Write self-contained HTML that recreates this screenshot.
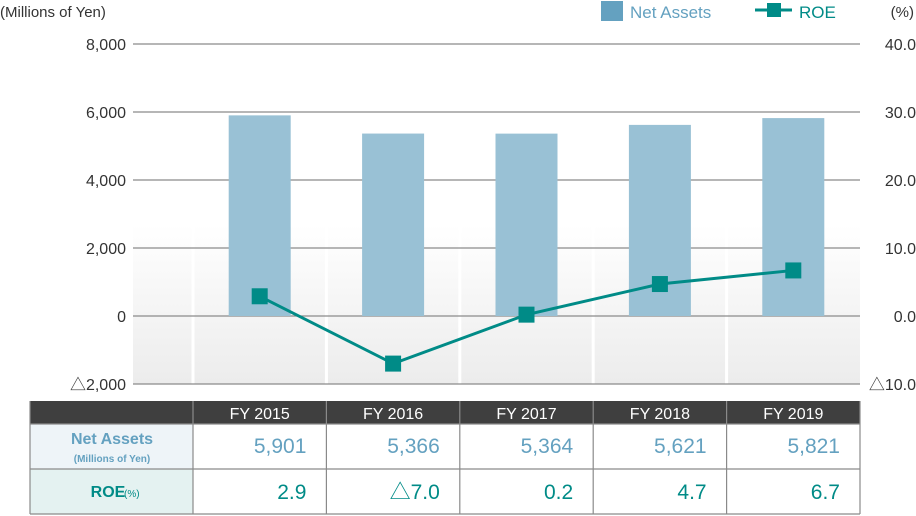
<!DOCTYPE html>
<html><head><meta charset="utf-8"><style>
body{margin:0;background:#fff;font-family:"Liberation Sans","Noto Sans CJK JP",sans-serif;}
svg{display:block}
</style></head><body>
<svg id="c" width="916" height="516" xmlns="http://www.w3.org/2000/svg">
<defs><linearGradient id="g" x1="0" y1="0" x2="0" y2="1"><stop offset="0" stop-color="#ffffff"/><stop offset="1" stop-color="#ececec"/></linearGradient></defs>
</svg>
<script>
const categories=["FY 2015","FY 2016","FY 2017","FY 2018","FY 2019"];
const netAssets=[5901,5366,5364,5621,5821];
const roe=[2.9,-7.0,0.2,4.7,6.7];
const leftTicks=[8000,6000,4000,2000,0,-2000];
const rightTicks=[40,30,20,10,0,-10];
const netLabels=["5,901","5,366","5,364","5,621","5,821"];
const roeLabels=["2.9","△7.0","0.2","4.7","6.7"];
const svg=document.getElementById('c');
const NS="http://www.w3.org/2000/svg";
function mk(t,a,txt){const e=document.createElementNS(NS,t);for(const k in a)e.setAttribute(k,a[k]);if(txt!==undefined)e.textContent=txt;svg.appendChild(e);return e;}
const X0=133,X1=860,colW=(X1-193)/5;
const yL=v=>316-v*0.034;
const yR=v=>316-v*6.8;
const xC=i=>193+colW*(i+0.5);
const fmtL=v=>(v<0?"△":"")+Math.abs(v).toLocaleString("en-US");
const fmtR=v=>(v<0?"△":"")+Math.abs(v).toFixed(1);
// background
let bg=mk('rect',{x:X0,y:225,width:X1-X0,height:384-225,fill:'url(#g)'});


for(let i=0;i<5;i++){let s=mk('rect',{x:193+colW*i-1.5,y:225,width:3,height:159,fill:'#fff'});

}
// gridlines & ticks
leftTicks.forEach((v,i)=>{
 let l=mk('line',{x1:X0,x2:X1,y1:yL(v),y2:yL(v),stroke:'#8a8a8a','stroke-width':1.2});
 
 
 let t=mk('text',{x:126,y:yL(v)+6,'text-anchor':'end','font-size':16,fill:'#333'},fmtL(v));
 
 
 let r=mk('text',{x:916,y:yR(rightTicks[i])+6,'text-anchor':'end','font-size':16,fill:'#333'},fmtR(rightTicks[i]));
 
 
});
let a=mk('text',{x:0,y:17,'font-size':15,fill:'#333'},"(Millions of Yen)");


let b=mk('text',{x:914,y:17,'text-anchor':'end','font-size':15,fill:'#333'},"(%)");


// legend
let lg1=mk('rect',{x:601,y:1,width:22,height:20,fill:'#64a1c0'});


let lt1=mk('text',{x:630,y:18,'font-size':17,fill:'#64a1c0'},"Net Assets");


let ll=mk('line',{x1:755,x2:792,y1:10,y2:10,stroke:'#008b87','stroke-width':3});


let lm=mk('rect',{x:767,y:3,width:14,height:14,fill:'#008b87'});


let lt2=mk('text',{x:799,y:18,'font-size':17,fill:'#008b87'},"ROE");


// bars
netAssets.forEach((v,i)=>{
 let r=mk('rect',{x:xC(i)-31,y:yL(v),width:62,height:yL(0)-yL(v),fill:'#99c1d5'});
 
 
});
// ROE line
let pl=mk('polyline',{points:roe.map((v,i)=>xC(i)+','+yR(v)).join(' '),fill:'none',stroke:'#008b87','stroke-width':3});


roe.forEach((v,i)=>{
 let m=mk('rect',{x:xC(i)-8,y:yR(v)-8,width:16,height:16,fill:'#008b87'});
 
 
});
// table
const TY=401,H0=23,H1=45;
let hd=mk('rect',{x:30,y:TY,width:X1-30,height:H0,fill:'#3f3f3f'});


let c1=mk('rect',{x:30,y:TY+H0,width:163,height:H1,fill:'#eef4f8'});


let c2=mk('rect',{x:30,y:TY+H0+H1,width:163,height:H1,fill:'#e4f2f1'});


const gl=(x1,y1,x2,y2)=>{let l=mk('line',{x1,y1,x2,y2,stroke:'#8a8a8a','stroke-width':1.2});};
gl(30,TY,30,TY+H0+2*H1);gl(X1,TY,X1,TY+H0+2*H1);
gl(30,TY+H0,X1,TY+H0);gl(30,TY+H0+H1,X1,TY+H0+H1);gl(30,TY+H0+2*H1,X1,TY+H0+2*H1);
for(let i=0;i<5;i++)gl(193+colW*i,TY,193+colW*i,TY+H0+2*H1);
categories.forEach((c,i)=>{
 let t=mk('text',{x:xC(i),y:TY+18,'text-anchor':'middle','font-size':16,fill:'#fff'},c);
 
 
 let n=mk('text',{x:193+colW*(i+1)-20,y:TY+H0+29,'text-anchor':'end','font-size':21,fill:'#64a1c0'},netLabels[i]);
 
 
 let r=mk('text',{x:193+colW*(i+1)-20,y:TY+H0+H1+30,'text-anchor':'end','font-size':21,fill:'#008b87'},roeLabels[i]);
 
 
});
let n1=mk('text',{x:112,y:TY+H0+20,'text-anchor':'middle','font-size':16,'font-weight':'bold',fill:'#64a1c0'},"Net Assets");


let n2=mk('text',{x:112,y:TY+H0+38,'text-anchor':'middle','font-size':10,'font-weight':'bold',fill:'#64a1c0'},"(Millions of Yen)");


let r1=mk('text',{x:108,y:TY+H0+H1+28,'text-anchor':'middle','font-size':16,'font-weight':'bold',fill:'#008b87'},"ROE");


let r2=mk('text',{x:124,y:TY+H0+H1+28,'font-size':10,fill:'#008b87'},"(%)");


</script>
</body></html>
